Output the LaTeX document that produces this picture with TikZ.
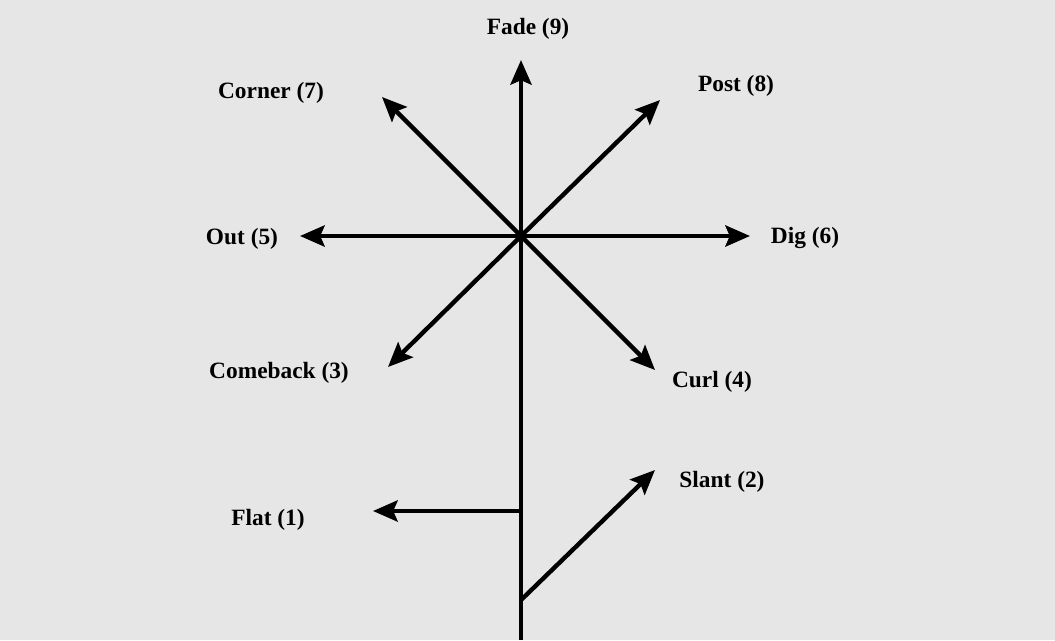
\documentclass[tikz,border=0pt]{standalone}
\usepackage{fontspec}
\setmainfont{Liberation Serif}
\usetikzlibrary{arrows.meta}
\definecolor{paper}{RGB}{230,230,230}
\tikzset{every picture/.style={x=0.02cm, y=-0.02cm}}
\tikzset{route/.style={line width=2.5pt, -{Stealth[length=14pt, width=12pt, inset=2.5pt]}},
         stem/.style={line width=2.5pt},
         lbl/.style={font=\bfseries\fontsize{13.3}{16}\selectfont, inner sep=1pt}}

\begin{document}
\begin{tikzpicture}
    % background and frame
    \fill[paper] (0,0) rectangle (1055,640);
    \useasboundingbox (0,0) rectangle (1055,640);
    % stem of the tree
    \coordinate (c) at (521,236);
    \coordinate (base) at (521,640);
    \coordinate (flatroot) at (521,511);
    \coordinate (slantroot) at (521,600);
    % arrow tips
    \coordinate (fade) at (521,60);
    \coordinate (post) at (660,100);
    \coordinate (corner) at (382,97);
    \coordinate (dig) at (750,236);
    \coordinate (out) at (300,236);
    \coordinate (comeback) at (388,367);
    \coordinate (curl) at (655,370);
    \coordinate (flat) at (373,511);
    \coordinate (slant) at (655,470);
    % labels
    \node[lbl] (fadelbl) at (528,29) {Fade (9)};
    \node[lbl] (postlbl) at (736,86) {Post (8)};
    \node[lbl] (cornerlbl) at (271,93) {Corner (7)};
    \node[lbl] (diglbl) at (805,238) {Dig (6)};
    \node[lbl] (outlbl) at (242,239) {Out (5)};
    \node[lbl] (comebacklbl) at (279,373) {Comeback (3)};
    \node[lbl] (curllbl) at (712,382) {Curl (4)};
    \node[lbl] (flatlbl) at (268,520) {Flat (1)};
    \node[lbl] (slantlbl) at (722,482) {Slant (2)};
    % routes
    \draw[stem] (base) -- (c);
    \draw[route] (c) -- (fade);
    \draw[route] (c) -- (post);
    \draw[route] (c) -- (corner);
    \draw[route] (c) -- (dig);
    \draw[route] (c) -- (out);
    \draw[route] (c) -- (comeback);
    \draw[route] (c) -- (curl);
    \draw[route] (flatroot) -- (flat);
    \draw[route] (slantroot) -- (slant);
\end{tikzpicture}
\end{document}
